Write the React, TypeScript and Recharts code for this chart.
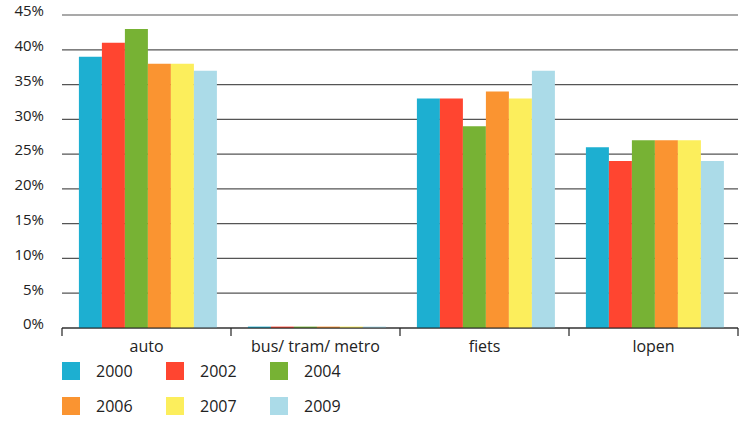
import { BarChart, Bar, XAxis, YAxis, CartesianGrid } from "recharts";

const CATEGORIES = ["auto", "bus/ tram/ metro", "fiets", "lopen"];
const YEARS = ["2000", "2002", "2004", "2006", "2007", "2009"];
const COLORS = ["#1dafd1", "#ff4530", "#77b234", "#fa9431", "#fcee5c", "#abdbe8"];

const V2000 = [39, 0.2, 33, 26];
const V2002 = [41, 0.2, 33, 24];
const V2004 = [43, 0.2, 29, 27];
const V2006 = [38, 0.2, 34, 27];
const V2007 = [38, 0.2, 33, 27];
const V2009 = [37, 0.2, 37, 24];

const Y_TICKS = [0, 5, 10, 15, 20, 25, 30, 35, 40, 45];

const SERIES = [V2000, V2002, V2004, V2006, V2007, V2009];

const data = CATEGORIES.map((label, i) => {
  const row: Record<string, string | number> = { label };
  YEARS.forEach((y, j) => {
    row[y] = SERIES[j][i];
  });
  return row;
});

const FONT = "'Open Sans', sans-serif";

function CategoryTick(props: any) {
  const { x, y, payload, index, visibleTicksCount } = props;
  const half = payload?.offset || 84.5;
  const last = index === (visibleTicksCount ?? CATEGORIES.length) - 1;
  return (
    <g>
      <line x1={x - half} x2={x - half} y1={y} y2={y - 8} stroke="#222" strokeWidth={1.2} />
      {last && <line x1={x + half} x2={x + half} y1={y} y2={y - 8} stroke="#222" strokeWidth={1.2} />}
      <text x={x} y={y + 16} textAnchor="middle" fontSize={16} fill="#222" fontFamily={FONT}>
        {payload.value}
      </text>
    </g>
  );
}

export default function App() {
  return (
    <div style={{ position: "absolute", left: 0, top: 0, width: 744, height: 423, background: "#fff", fontFamily: FONT }}>
      <BarChart
        width={744}
        height={358}
        data={data}
        margin={{ top: 15, right: 6, bottom: 0, left: 0 }}
        barCategoryGap="10%"
        barGap={0}
      >
        <CartesianGrid vertical={false} stroke="#555" strokeWidth={1.2} />
        <XAxis
          dataKey="label"
          height={30}
          interval={0}
          axisLine={{ stroke: "#222", strokeWidth: 1.2 }}
          tickLine={false}
          tick={<CategoryTick />}
        />
        <YAxis
          width={62}
          domain={[0, 45]}
          ticks={Y_TICKS}
          tickFormatter={(v) => `${v}%`}
          axisLine={false}
          tickLine={false}
          tickMargin={12}
          tick={{ fontSize: 15, fill: "#222", fontFamily: FONT, dy: -4 }}
        />
        {YEARS.map((y, i) => (
          <Bar key={y} dataKey={y} fill={COLORS[i]} isAnimationActive={false} />
        ))}
      </BarChart>
      <div style={{ position: "absolute", left: 62, top: 362, width: 320, display: "grid", gridTemplateColumns: "104px 104px 104px", rowGap: 17 }}>
        {YEARS.map((y, i) => (
          <div key={y} style={{ display: "flex", alignItems: "center", height: 18 }}>
            <span style={{ width: 18, height: 18, background: COLORS[i], display: "inline-block" }} />
            <span style={{ marginLeft: 16, fontSize: 16, color: "#222", lineHeight: "18px" }}>{y}</span>
          </div>
        ))}
      </div>
    </div>
  );
}
